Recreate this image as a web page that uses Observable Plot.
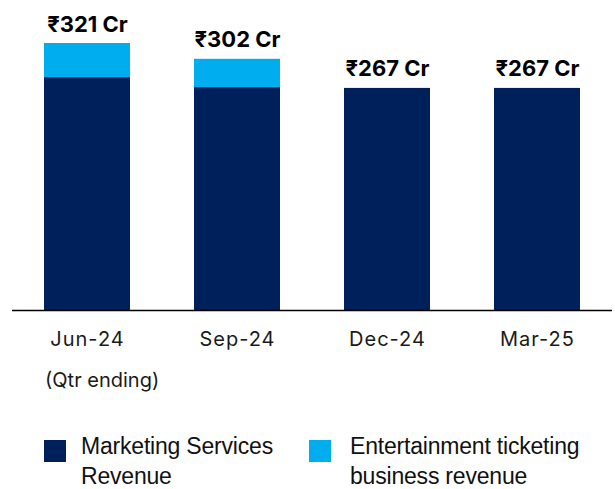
<!DOCTYPE html>
<html>
<head>
<meta charset="utf-8">
<script src="https://cdn.jsdelivr.net/npm/d3@7"></script>
<script src="https://cdn.jsdelivr.net/npm/@observablehq/plot@0.6"></script>
<style>
  html, body { margin: 0; padding: 0; background: #fff; }
  #wrap { position: relative; width: 615px; height: 489px; overflow: hidden; }
  #chart { position: absolute; left: 0; top: 0; }
  svg g[aria-label^="x-axis"] text { letter-spacing: 1px; }
  .qtr { position: absolute; left: 45px; top: 370px; font-family: Inter, "Noto Sans", sans-serif; font-size: 20px; line-height: 20px; color: #1a1a1a; white-space: nowrap; }
  .leg { position: absolute; top: 431px; font-family: "Liberation Sans", Arial, sans-serif; font-size: 23px; line-height: 30px; color: #111; letter-spacing: -0.2px; }
  .sw { position: absolute; top: 440px; width: 22px; height: 22px; }
</style>
</head>
<body>
<div id="wrap">
  <div id="chart"></div>
  <div class="qtr">(Qtr ending)</div>
  <div id="legend"></div>
</div>
<script>
const quarters = ["Jun-24", "Sep-24", "Dec-24", "Mar-25"];
const marketing = [280, 268, 267, 267];
const ticketing = [41, 34, 0, 0];
const totals = [321, 302, 267, 267];
const seriesNames = ["Marketing Services Revenue", "Entertainment ticketing business revenue"];
const legendLines = [["Marketing Services", "Revenue"], ["Entertainment ticketing", "business revenue"]];
const colors = ["#00205b", "#00aeef"];

const rows = [];
quarters.forEach((q, i) => {
  rows.push({quarter: q, series: seriesNames[0], value: marketing[i]});
  rows.push({quarter: q, series: seriesNames[1], value: ticketing[i]});
});

const chart = Plot.plot({
  width: 615,
  height: 355,
  marginLeft: 12,
  marginRight: 3,
  marginTop: 43,
  marginBottom: 45,
  style: {fontFamily: "Inter, 'Noto Sans', sans-serif", fontSize: "20px", color: "#1a1a1a", background: "#fff"},
  x: {domain: quarters, paddingInner: 0.427, paddingOuter: 0.213, tickSize: 0, tickPadding: 21, label: null},
  y: {domain: [0, 321], axis: null},
  color: {domain: seriesNames, range: colors},
  marks: [
    Plot.barY(rows, {x: "quarter", y: "value", fill: "series"}),
    Plot.ruleY([0], {stroke: "#000", strokeWidth: 1.3}),
    Plot.text(quarters, {
      x: d => d,
      y: (d, i) => totals[i],
      text: (d, i) => `₹${totals[i]} Cr`,
      lineAnchor: "bottom",
      dy: -12,
      fontSize: 22,
      fontWeight: 700,
      fill: "#000"
    })
  ]
});
document.getElementById("chart").appendChild(chart);

const legend = document.getElementById("legend");
const swX = [44, 309];
const txtX = [81, 350];
seriesNames.forEach((s, i) => {
  const sw = document.createElement("div");
  sw.className = "sw";
  sw.style.left = swX[i] + "px";
  sw.style.background = colors[i];
  legend.appendChild(sw);
  const t = document.createElement("div");
  t.className = "leg";
  t.style.left = txtX[i] + "px";
  t.innerHTML = legendLines[i].join("<br>");
  legend.appendChild(t);
});
</script>
</body>
</html>
